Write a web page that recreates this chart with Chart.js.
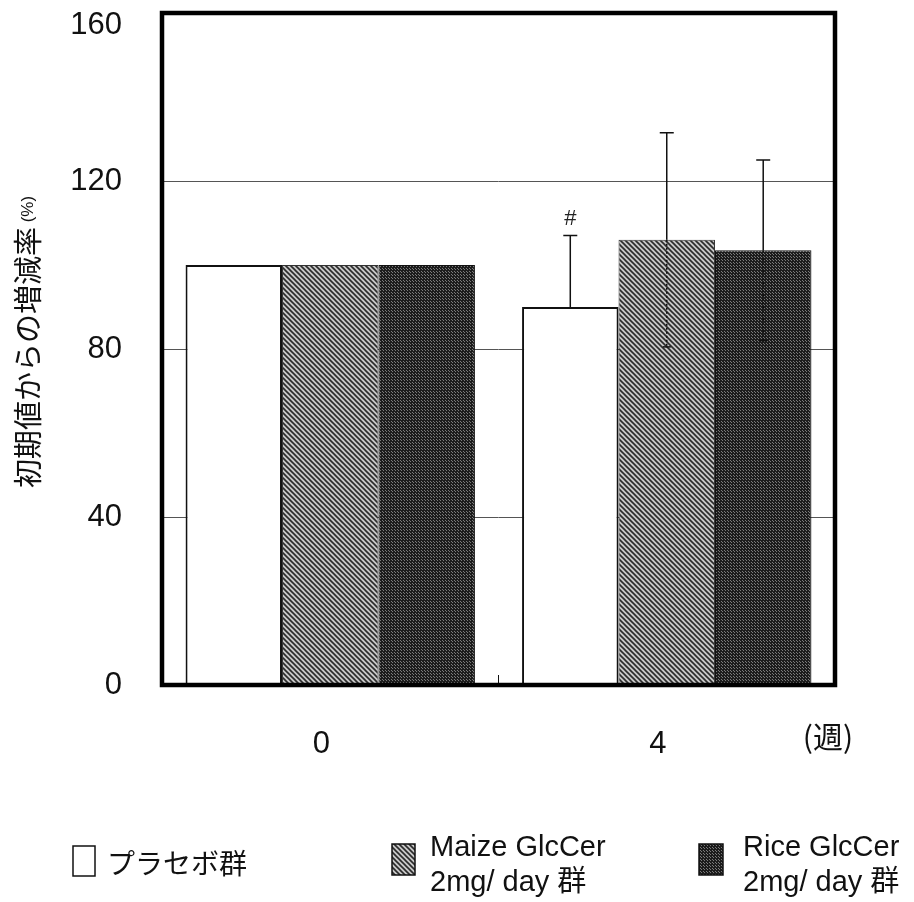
<!DOCTYPE html>
<html>
<head>
<meta charset="utf-8">
<script src="https://cdn.jsdelivr.net/npm/chart.js@4"></script>
<style>
  body { margin: 0; background: #fff; }
  canvas { display: block; }
</style>
</head>
<body>
<canvas id="myChart" width="914" height="902"></canvas>
<script>
var weeks = ['0', '4'];
var seriesNames = ['プラセボ群', 'Maize GlcCer 2mg/ day 群', 'Rice GlcCer 2mg/ day 群'];
var placebo = [100, 90];
var maize = [100, 106];
var rice = [100, 103.5];
var placeboSD = [0, 17];
var maizeSD = [0, 25.5];
var riceSD = [0, 21.5];
var yTicks = [0, 40, 80, 120, 160];

var latin = '"Liberation Sans", Arial, "Noto Sans CJK JP", sans-serif';
var jp = '"Noto Sans CJK JP", "Liberation Sans", sans-serif';

function makeHatch() {
    var c = document.createElement('canvas');
    c.width = 5; c.height = 5;
    var g = c.getContext('2d');
    g.fillStyle = '#c8c8c8';
    g.fillRect(0, 0, 5, 5);
    g.strokeStyle = '#2a2a2a';
    g.lineWidth = 1.6;
    g.beginPath();
    g.moveTo(-1, -1); g.lineTo(6, 6);
    g.moveTo(-1, 4); g.lineTo(1, 6);
    g.moveTo(4, -1); g.lineTo(6, 1);
    g.stroke();
    return g.createPattern(c, 'repeat');
}

function makeDots() {
    var c = document.createElement('canvas');
    c.width = 3; c.height = 3;
    var g = c.getContext('2d');
    g.fillStyle = '#1c1c1c';
    g.fillRect(0, 0, 3, 3);
    g.fillStyle = '#7a7a7a';
    g.fillRect(1, 1, 1, 1);
    g.fillRect(2, 2, 1, 1);
    return g.createPattern(c, 'repeat');
}

var ctx = document.getElementById('myChart').getContext('2d');
var hatch = makeHatch();
var dots = makeDots();
var fills = ['#ffffff', hatch, dots];
var sds = [placeboSD, maizeSD, riceSD];
var showLower = [false, true, true];

// error bars, frame, annotations, y title, legend
var extras = {
    id: 'extras',
    afterDatasetsDraw: function (chart) {
        var c = chart.ctx;
        var y = chart.scales.y;
        var a = chart.chartArea;
        c.save();
        c.strokeStyle = '#111';
        c.lineWidth = 1.5;
        chart.data.datasets.forEach(function (ds, i) {
            var meta = chart.getDatasetMeta(i);
            meta.data.forEach(function (bar, j) {
                var sd = sds[i][j];
                if (!sd) return;
                var x = bar.x;
                var top = y.getPixelForValue(ds.data[j] + sd);
                var mid = y.getPixelForValue(ds.data[j]);
                var low = y.getPixelForValue(ds.data[j] - sd);
                c.setLineDash([]);
                c.beginPath();
                c.moveTo(x, mid); c.lineTo(x, top);
                c.moveTo(x - 7, top); c.lineTo(x + 7, top);
                c.stroke();
                if (showLower[i]) {
                    c.setLineDash([2, 2]);
                    c.beginPath();
                    c.moveTo(x, mid); c.lineTo(x, low);
                    c.stroke();
                    c.setLineDash([]);
                    c.beginPath();
                    c.moveTo(x - 4, low); c.lineTo(x + 4, low);
                    c.stroke();
                }
                if (i === 0 && j === 1) {
                    c.fillStyle = '#222';
                    c.font = '22px ' + latin;
                    c.textAlign = 'center';
                    c.textBaseline = 'bottom';
                    c.fillText('#', x, top - 6);
                }
            });
        });
        // small tick between groups
        var xs = chart.scales.x;
        var bx = (xs.getPixelForValue(0) + xs.getPixelForValue(1)) / 2;
        c.lineWidth = 1;
        c.beginPath();
        c.moveTo(bx, a.bottom); c.lineTo(bx, a.bottom - 10);
        c.stroke();
        // frame
        c.lineWidth = 4.5;
        c.strokeStyle = '#000';
        c.strokeRect(a.left, a.top, a.right - a.left, a.bottom - a.top);
        c.restore();
    },
    afterDraw: function (chart) {
        var c = chart.ctx;
        c.save();
        c.fillStyle = '#111';
        // week unit
        c.font = '30px ' + jp;
        c.textAlign = 'center';
        c.textBaseline = 'middle';
        c.fillText('(週)', 828, 737);
        // y title
        c.translate(28, 342);
        c.rotate(-Math.PI / 2);
        var main = '初期値からの増減率';
        var unit = ' (%)';
        c.font = '29px ' + jp;
        var w1 = c.measureText(main).width;
        c.font = '17px ' + latin;
        var w2 = c.measureText(unit).width;
        var sx = -(w1 + w2) / 2;
        c.textAlign = 'left';
        c.font = '29px ' + jp;
        c.fillText(main, sx, 0);
        c.font = '17px ' + latin;
        c.fillText(unit, sx + w1, 0);
        c.restore();
        // legend
        c.save();
        c.strokeStyle = '#111';
        c.lineWidth = 1.5;
        c.fillStyle = fills[0];
        c.fillRect(73, 846, 22, 30);
        c.strokeRect(73, 846, 22, 30);
        c.fillStyle = fills[1];
        c.fillRect(392, 844, 23, 31);
        c.strokeRect(392, 844, 23, 31);
        c.fillStyle = fills[2];
        c.fillRect(699, 844, 24, 31);
        c.strokeRect(699, 844, 24, 31);
        c.fillStyle = '#111';
        c.textAlign = 'left';
        c.textBaseline = 'middle';
        c.font = '28px ' + jp;
        c.fillText(seriesNames[0], 107, 863);
        c.font = '29px ' + latin;
        c.fillText('Maize GlcCer', 430, 848);
        c.fillText('2mg/ day 群', 430, 883);
        c.fillText('Rice GlcCer', 743, 848);
        c.fillText('2mg/ day 群', 743, 883);
        c.restore();
    }
};

var chart = new Chart(ctx, {
    type: 'bar',
    data: {
        labels: weeks,
        datasets: [{
            label: seriesNames[0],
            data: placebo,
            backgroundColor: fills[0],
            borderColor: '#111',
            borderWidth: 2
        }, {
            label: seriesNames[1],
            data: maize,
            backgroundColor: fills[1],
            borderColor: '#333',
            borderWidth: 1
        }, {
            label: seriesNames[2],
            data: rice,
            backgroundColor: fills[2],
            borderColor: '#111',
            borderWidth: 1
        }]
    },
    options: {
        responsive: false,
        animation: false,
        categoryPercentage: 0.86,
        barPercentage: 1.0,
        layout: {
            padding: { top: 13, right: 79, left: 0, bottom: 0 }
        },
        plugins: {
            legend: { display: false },
            tooltip: { enabled: false }
        },
        scales: {
            x: {
                afterFit: function (s) { s.height = 217; },
                grid: { display: false },
                border: { display: false },
                ticks: {
                    color: '#111',
                    padding: 33,
                    labelOffset: -9,
                    font: { size: 31, family: latin }
                }
            },
            y: {
                min: 0,
                max: 160,
                afterFit: function (s) {
                    s.width = 162;
                    s.paddingTop = 0;
                    s.paddingBottom = 0;
                },
                afterBuildTicks: function (s) {
                    s.ticks = yTicks.map(function (v) { return { value: v }; });
                },
                border: { display: false },
                grid: {
                    drawTicks: false,
                    color: '#555',
                    lineWidth: 1
                },
                ticks: {
                    color: '#111',
                    padding: 40,
                    font: { size: 31, family: latin, lineHeight: 0.8 },
                    // top label sits just below the frame, as in the original
                    callback: function (v) {
                        return v === 160 ? ['', '160'] : String(v);
                    }
                }
            }
        }
    },
    plugins: [extras]
});
</script>
</body>
</html>
